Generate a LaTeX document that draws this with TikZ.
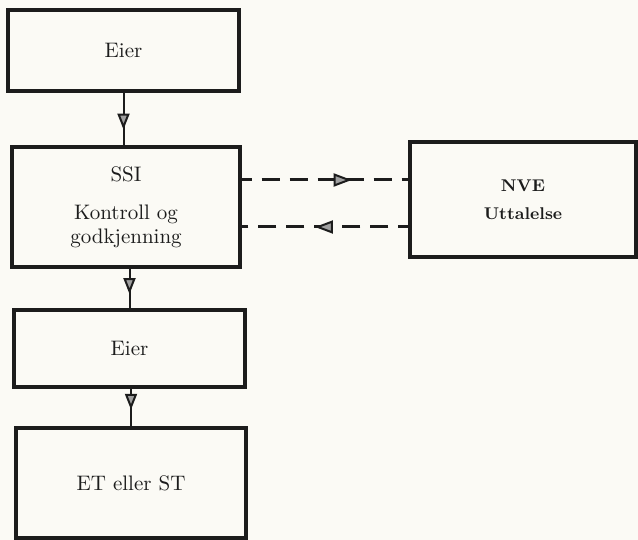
\documentclass[tikz,border=0pt]{standalone}
\usepackage{tikz}
\usetikzlibrary{arrows.meta, positioning, calc, decorations.markings}
\definecolor{ink}{RGB}{28, 28, 28}
\definecolor{paper}{RGB}{251, 250, 245}
\definecolor{headfill}{RGB}{160, 160, 160}
\tikzset{
  font=\fontsize{10.5}{12}\selectfont,
  baseblock/.style={
    rectangle, draw=ink, line width=1.6pt,
    align=center, inner sep=2pt, text=ink
  },
  flowline/.style={
    draw=ink, line width=1pt, postaction={decorate},
    decoration={markings, mark=at position #1 with {\arrow[solid]{Triangle[length=8pt, width=6pt, fill=headfill]}}}
  },
  flowline/.default=0.65,
  dashedflow/.style={
    draw=ink, line width=1.5pt, dash pattern=on 9pt off 5pt, dash phase=4pt, postaction={decorate},
    decoration={markings, mark=at position #1 with {\arrow[solid, line width=1pt]{Triangle[length=9pt, width=6.5pt, fill=headfill]}}}
  }
}
\begin{document}
\begin{tikzpicture}[x=0.5pt, y=-0.5pt]
  % paper and page size
  \fill[paper] (0,0) rectangle (638,540);
  \useasboundingbox (0,0) rectangle (638,540);

  % Left column: main flow
  \node[baseblock, minimum width=115.5pt, minimum height=40.5pt] (eiertop) at (123.5,50.5) {Eier};

  \node[baseblock, minimum width=114pt, minimum height=60pt] (ssi) at (126,207) {
    SSI\\[7pt]
    Kontroll og\\
    godkjenning
  };

  \node[baseblock, minimum width=115.5pt, minimum height=38.5pt] (eierlow) at (129.5,348.5) {Eier};

  \node[baseblock, minimum width=115pt, minimum height=55pt] (etst) at (131,483) {ET eller ST};

  % Right: NVE statement
  \node[baseblock, minimum width=113pt, minimum height=57.5pt, font=\fontsize{8.5}{14}\selectfont\bfseries] (nve) at (523,199.5) {
    NVE\\
    Uttalelse
  };

  % Vertical flows
  \draw[flowline=0.7] (eiertop.south) -- (eiertop.south |- ssi.north);
  \draw[flowline=0.64] (eierlow.north |- ssi.south) -- (eierlow.north);
  \draw[flowline=0.56] (etst.north |- eierlow.south) -- (etst.north);

  % Dashed exchange with NVE
  \draw[dashedflow=0.66] ([yshift=13.5pt]ssi.east) -- ([yshift=13.5pt]ssi.east -| nve.west);
  \draw[dashedflow=0.56] ([yshift=-10pt]ssi.east -| nve.west) -- ([yshift=-10pt]ssi.east);
\end{tikzpicture}
\end{document}
